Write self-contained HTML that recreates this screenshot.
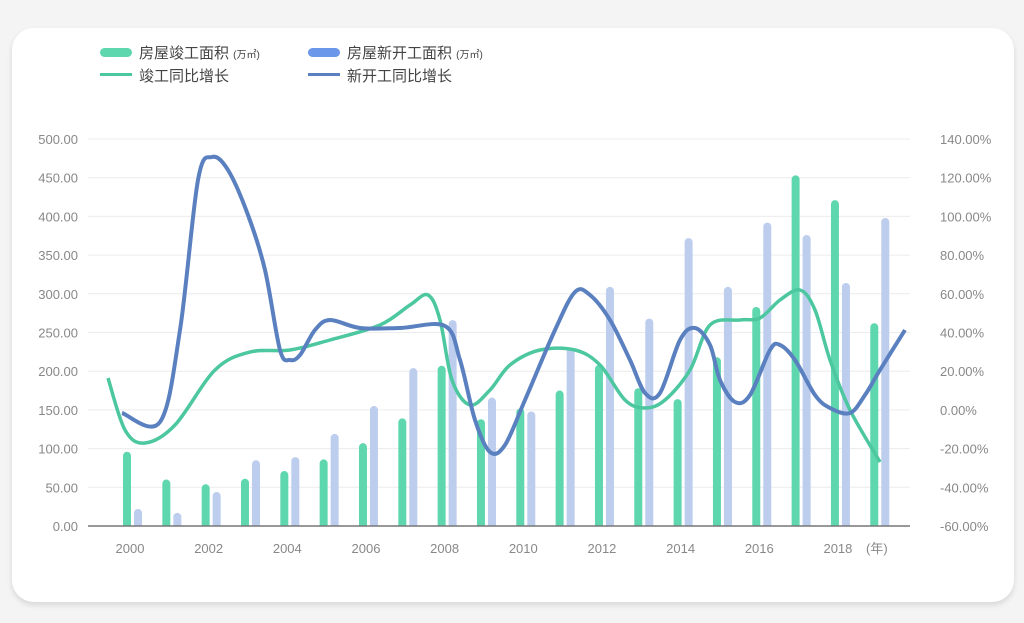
<!DOCTYPE html>
<html><head><meta charset="utf-8"><style>
html,body{margin:0;padding:0;background:#f4f4f4;}
body{width:1024px;height:623px;position:relative;overflow:hidden;font-family:"Liberation Sans","Noto Sans CJK SC",sans-serif;}
.card{position:absolute;left:12px;top:28px;width:1002px;height:574px;background:#fff;border-radius:22px;box-shadow:0 3px 6px rgba(0,0,0,0.12);}
svg{position:absolute;left:0;top:0;}
</style></head><body>
<div class="card"></div>
<svg id="s" width="1024" height="623" font-family="Liberation Sans, Noto Sans CJK SC, sans-serif"></svg>
<script>
var s=document.getElementById('s'),h='<defs><clipPath id="cp"><rect x="0" y="0" width="1024" height="526"/></clipPath></defs>';
for(var i=0;i<=10;i++){var y=526-i*38.7;
 h+='<line x1="88" x2="910" y1="'+y+'" y2="'+y+'" stroke="#ececec" stroke-width="1"/>';
 h+='<text x="78" y="'+(y+5)+'" text-anchor="end" font-size="13" fill="#888">'+(i*50).toFixed(2)+'</text>';
 h+='<text x="940" y="'+(y+5)+'" font-size="13" fill="#888">'+(-60+i*20).toFixed(2)+'%</text>';}
var g=[96,60,54,61,71,86,107,139,207,138,152,175,208,178,164,218,283,453,421,262];
var b=[22,17,44,85,89,119,155,204,266,166,148,230,309,268,372,309,392,376,314,398];
h+='<g clip-path="url(#cp)">';
for(var i=0;i<20;i++){var c=130+39.33*i;
 h+='<rect x="'+(c-7)+'" y="'+(526-g[i]*0.774)+'" width="8" height="'+(g[i]*0.774+6)+'" rx="4" fill="#5fd7ae"/>';
 h+='<rect x="'+(c+4)+'" y="'+(526-b[i]*0.774)+'" width="8" height="'+(b[i]*0.774+6)+'" rx="4" fill="#bccdee"/>';}
h+='</g>';
for(var i=0;i<20;i+=2){var c=130+39.33*i;h+='<text x="'+c+'" y="553" text-anchor="middle" font-size="13" fill="#888">'+(2000+i)+'</text>';}
h+='<line x1="88" x2="910" y1="526" y2="526" stroke="#777" stroke-width="1.5"/>';
h+='<text x="866" y="553" font-size="13" fill="#888">(年)</text>';
function path(p){var d='M'+p[0][0]+','+p[0][1];for(var i=0;i<p.length-1;i++){var p0=p[i-1]||p[i],p1=p[i],p2=p[i+1],p3=p[i+2]||p2;
 d+=' C'+(p1[0]+(p2[0]-p0[0])/6)+','+(p1[1]+(p2[1]-p0[1])/6)+' '+(p2[0]-(p3[0]-p1[0])/6)+','+(p2[1]-(p3[1]-p1[1])/6)+' '+p2[0]+','+p2[1];}return d;}
var gl=[[108,378],[125,430],[145,443],[175,425],[215,370],[250,352],[290,350],[330,340],[380,325],[410,305],[428,295],[440,320],[452,380],[470,405],[490,390],[510,365],[540,350],[575,350],[600,365],[625,400],[645,408],[665,400],[690,370],[710,325],[740,320],[760,318],[780,300],[800,290],[815,310],[830,360],[850,410],[880,462]];
var bl=[[122,413],[160,422],[180,330],[198,180],[212,157],[228,170],[248,215],[265,270],[280,350],[290,360],[300,355],[315,330],[330,320],[360,328],[400,328],[445,326],[460,360],[475,420],[490,452],[505,445],[525,400],[555,330],[575,292],[590,295],[610,320],[630,360],[645,393],[660,393],[680,340],[695,328],[710,345],[720,380],[735,402],[750,395],[770,350],[780,345],[795,360],[815,395],[830,408],[850,413],[865,395],[880,370],[905,330]];
h+='<path d="'+path(gl)+'" fill="none" stroke="#4cc79f" stroke-width="3.5"/>';
h+='<path d="'+path(bl)+'" fill="none" stroke="#5a80c0" stroke-width="4"/>';
h+='<rect x="100" y="48" width="32" height="9" rx="4.5" fill="#5fd7ae"/><text x="139" y="58" font-size="15" fill="#444">房屋竣工面积 <tspan font-size="10">(万㎡)</tspan></text>';
h+='<rect x="308" y="48" width="32" height="9" rx="4.5" fill="#6b97ea"/><text x="347" y="58" font-size="15" fill="#444">房屋新开工面积 <tspan font-size="10">(万㎡)</tspan></text>';
h+='<rect x="100" y="73" width="32" height="3" fill="#4cc79f"/><text x="139" y="81" font-size="15" fill="#444">竣工同比增长</text>';
h+='<rect x="308" y="73" width="32" height="3" fill="#5a80c0"/><text x="347" y="81" font-size="15" fill="#444">新开工同比增长</text>';
s.innerHTML=h;
</script>
</body></html>
